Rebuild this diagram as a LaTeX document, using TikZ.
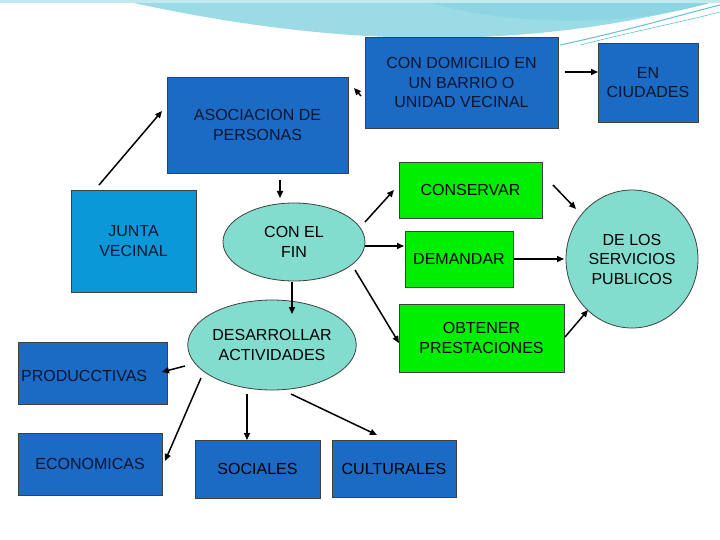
\documentclass[tikz,border=0pt]{standalone}
\usepackage{fontspec}
\setmainfont{Liberation Sans}
\usetikzlibrary{arrows.meta,shapes.geometric}
\definecolor{bbox}{HTML}{1B6AC4}
\definecolor{jbox}{HTML}{0A98D8}
\definecolor{aqua}{HTML}{82DDCF}
\definecolor{gbox}{HTML}{00EE00}
\definecolor{txt}{HTML}{0A1530}
\definecolor{swA}{HTML}{9ADBE6}
\definecolor{swB}{HTML}{5CC3D3}
\begin{document}
\begin{tikzpicture}[x=1pt,y=-1pt,
  base/.style={draw=black!75,line width=0.8pt,align=center,inner sep=0pt,text=txt,font=\fontsize{16}{19.5}\selectfont},
  bluebox/.style={base,rectangle,fill=bbox},
  greenbox/.style={base,rectangle,fill=gbox,text=black},
  oval/.style={base,ellipse,fill=aqua,text=black},
  lbl/.style={text=txt,font=\fontsize{16}{19.5}\selectfont},
  arr/.style={-{Triangle[length=7pt,width=6pt]},line width=1.5pt}]
\useasboundingbox (0,0) rectangle (720,540);
\fill[white] (0,0) rectangle (720,540);
% swoosh decoration
\fill[swA] (120,0) .. controls (300,40) and (500,60) .. (720,0) -- cycle;
\fill[swB!70] (420,0) .. controls (520,30) and (640,25) .. (720,0) -- cycle;
\draw[swB,line width=1pt] (560,45) .. controls (630,30) and (680,15) .. (720,5);
\draw[swB,line width=0.6pt] (580,45) .. controls (640,30) and (690,20) .. (720,12);
\fill[swA!60] (0,0) rectangle (720,3);
% nodes
\node[bluebox,minimum width=181,minimum height=96] (asoc) at (257.5,125) {ASOCIACION DE\\PERSONAS};
\node[bluebox,minimum width=193,minimum height=91] (dom) at (461.5,82.5) {CON DOMICILIO EN\\UN BARRIO O\\UNIDAD VECINAL};
\node[bluebox,minimum width=100,minimum height=79] (ciu) at (648,82.5) {EN\\CIUDADES};
\node[greenbox,minimum width=143,minimum height=56] (cons) at (470.5,190) {CONSERVAR};
\node[bluebox,fill=jbox,minimum width=125,minimum height=102] (junta) at (133.5,241) {JUNTA\\VECINAL};
\node[oval,minimum width=142,minimum height=78] (fin) at (294,242) {CON EL\\FIN};
\node[greenbox,minimum width=108,minimum height=56] (dem) at (459,259) {DEMANDAR};
\node[oval,minimum width=132,minimum height=138] (serv) at (632,259) {DE LOS\\SERVICIOS\\PUBLICOS};
\node[oval,minimum width=165,minimum height=90] (des) at (272,345) {DESARROLLAR\\ACTIVIDADES};
\node[greenbox,minimum width=165,minimum height=68] (obt) at (481.5,338) {OBTENER\\PRESTACIONES};
\node[bluebox,minimum width=149,minimum height=62] (prod) at (92.5,373) {};
\node[lbl,anchor=west,inner sep=0pt] (prodt) at (21,376) {PRODUCCTIVAS};
\node[bluebox,minimum width=144,minimum height=62] (eco) at (90,464) {};
\node[lbl] (ecot) at (90,464) {ECONOMICAS};
\node[bluebox,minimum width=125,minimum height=58] (soc) at (257.5,469) {};
\node[lbl,text=black] (soct) at (257.5,469) {SOCIALES};
\node[bluebox,minimum width=124,minimum height=57] (cul) at (394,468.5) {};
\node[lbl,text=black] (cult) at (394,468.5) {CULTURALES};
% connector end points
\coordinate (j1) at (99,185); \coordinate (j2) at (162,111);
\coordinate (a1) at (361,96); \coordinate (a2) at (354,88);
\coordinate (d1) at (565,72); \coordinate (d2) at (598,72);
\coordinate (s1) at (280,180); \coordinate (s2) at (280,198);
\coordinate (f1) at (365,222); \coordinate (f2) at (394,190);
\coordinate (f3) at (365,246); \coordinate (f4) at (404,246);
\coordinate (f5) at (355,270); \coordinate (f6) at (399,343);
\coordinate (c1) at (553,185); \coordinate (c2) at (576,209);
\coordinate (m1) at (514,259); \coordinate (m2) at (564,259);
\coordinate (o1) at (565,337); \coordinate (o2) at (588,310);
\coordinate (f7) at (292,282); \coordinate (f8) at (292,314);
\coordinate (p1) at (185,366); \coordinate (p2) at (162,372);
\coordinate (e1) at (201,378); \coordinate (e2) at (165,461);
\coordinate (q1) at (247,394); \coordinate (q2) at (247,440);
\coordinate (u1) at (291,394); \coordinate (u2) at (377,435);
\draw[arr] (j1) -- (j2);
\draw[arr] (a1) -- (a2);
\draw[arr] (d1) -- (d2);
\draw[arr] (s1) -- (s2);
\draw[arr] (f1) -- (f2);
\draw[arr] (f3) -- (f4);
\draw[arr] (f5) -- (f6);
\draw[arr] (c1) -- (c2);
\draw[arr] (m1) -- (m2);
\draw[arr] (o1) -- (o2);
\draw[arr] (f7) -- (f8);
\draw[arr] (p1) -- (p2);
\draw[arr] (e1) -- (e2);
\draw[arr] (q1) -- (q2);
\draw[arr] (u1) -- (u2);
\end{tikzpicture}
\end{document}
